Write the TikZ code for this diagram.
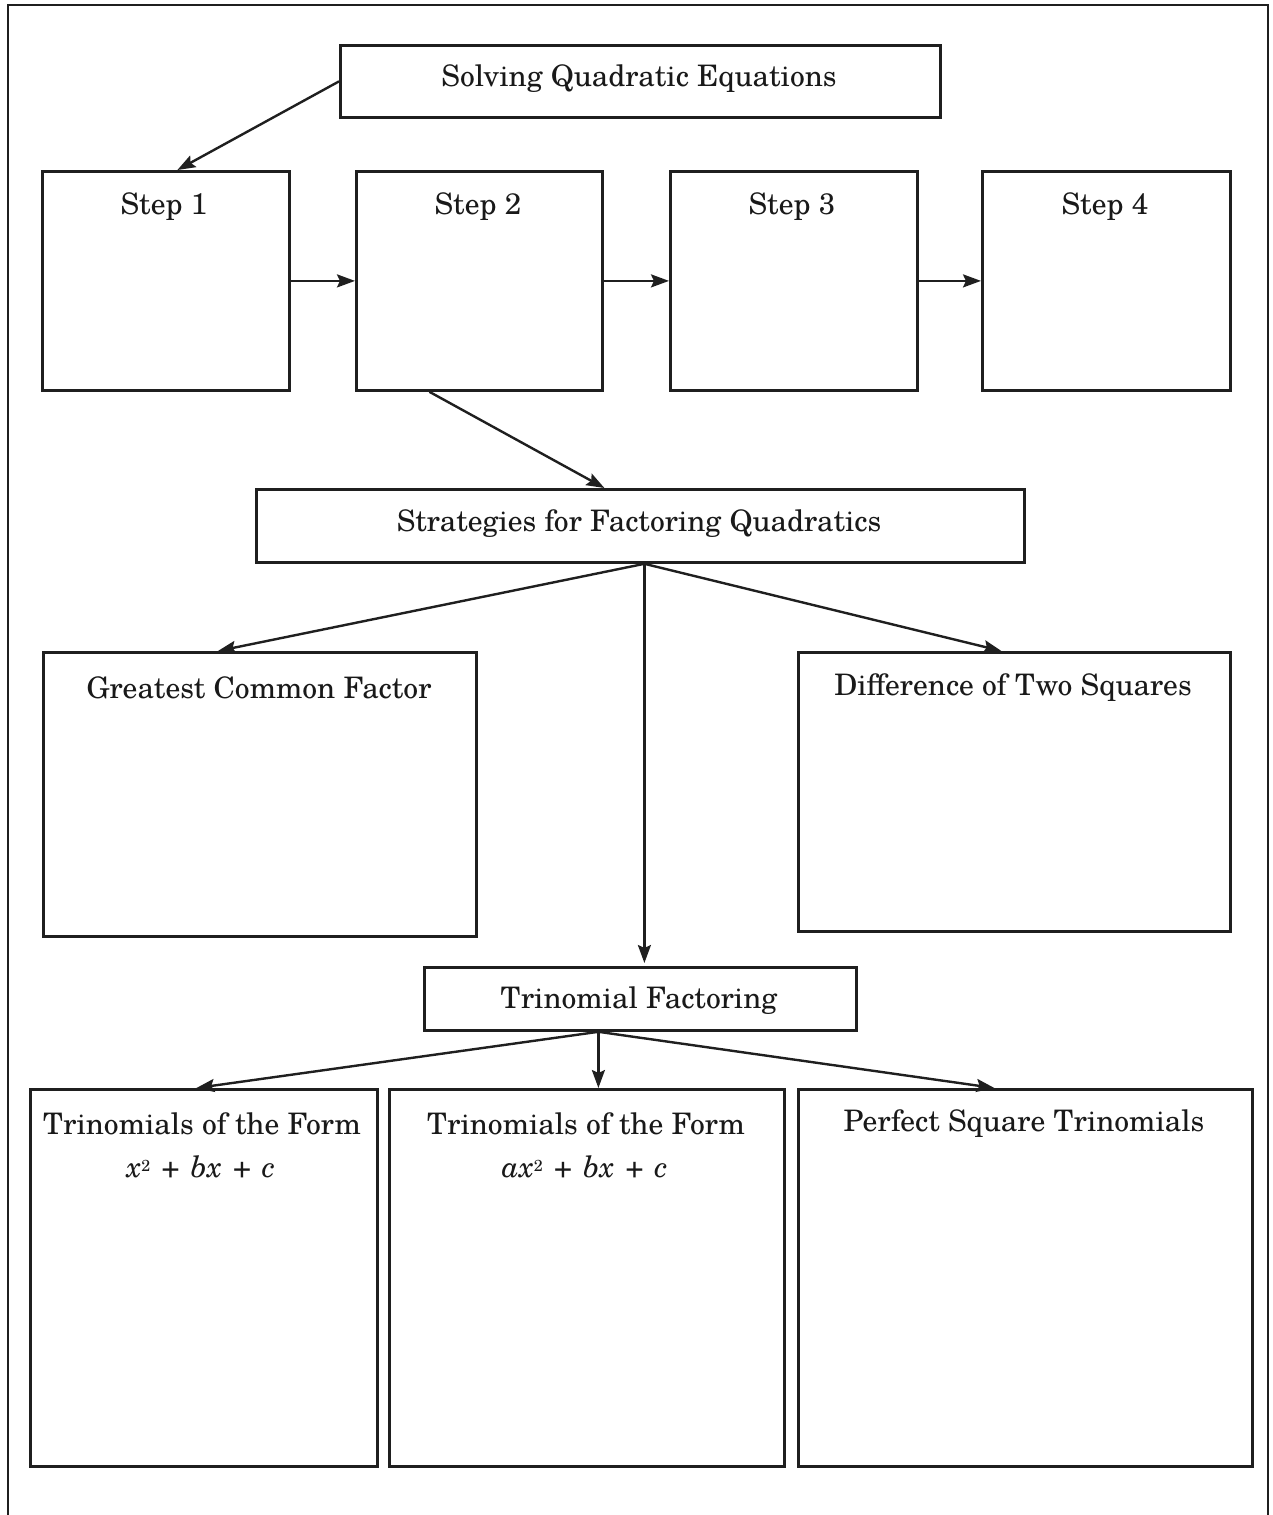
\documentclass[tikz,border=0pt]{standalone}
\usepackage{fontspec}
\setmainfont{TeX Gyre Schola}
\usetikzlibrary{arrows.meta}
\newcommand{\pl}{\hspace{5.6pt}+\hspace{5.6pt}}
\newcommand{\sqd}{{\footnotesize\raisebox{0.8ex}{2}}}
\begin{document}
\begin{tikzpicture}[x=0.5pt,y=-0.5pt,
  line width=1.4pt, draw={black!88},
  box/.style={draw, rectangle, inner sep=0pt, anchor=north west},
  txt/.style={inner sep=0pt, font=\fontsize{14.8}{18}\selectfont, text=black!90, align=center},
  arr/.style={line width=1.2pt, -{Stealth[length=9pt,width=6.5pt,inset=1.5pt]}},
  frameline/.style={line width=1.4pt}]
\useasboundingbox (0,0) rectangle (1273,1515);
% open page frame
\draw[frameline] (8,1515) -- (8,5) -- (1268,5) -- (1268,1515);

% top level
\node[box, minimum width=300pt, minimum height=36pt] (solve) at (339,44) {};
\node[txt] (solvet) at (639,79) {Solving Quadratic Equations};

% step boxes
\node[box, minimum width=123.5pt, minimum height=109.5pt] (s1) at (41,170) {};
\node[box, minimum width=123pt, minimum height=109.5pt] (s2) at (355,170) {};
\node[box, minimum width=123.5pt, minimum height=109.5pt] (s3) at (669,170) {};
\node[box, minimum width=124pt, minimum height=109.5pt] (s4) at (981,170) {};
\node[txt] (s1t) at (164,207) {Step 1};
\node[txt] (s2t) at (478,207) {Step 2};
\node[txt] (s3t) at (792,207) {Step 3};
\node[txt] (s4t) at (1105,207) {Step 4};

% strategies
\node[box, minimum width=384pt, minimum height=36.5pt] (strat) at (255,488) {};
\node[txt] (stratt) at (639,524) {Strategies for Factoring Quadratics};

\node[box, minimum width=216.5pt, minimum height=142pt] (gcf) at (42,651) {};
\node[txt] (gcft) at (259,688) {Greatest Common Factor};
\node[box, minimum width=216pt, minimum height=139.5pt] (dts) at (797,651) {};
\node[txt] (dtst) at (1013,688) {Difference of Two Squares};

% trinomial factoring
\node[box, minimum width=216pt, minimum height=31.5pt] (tri) at (423,966) {};
\node[txt] (trit) at (639,1001) {Trinomial Factoring};

\node[box, minimum width=173.5pt, minimum height=188.5pt] (b1) at (29,1088) {};
\node[txt] (b1t) at (202,1124) {Trinomials of the Form};
\node[txt] (b1m) at (201,1167) {\textit{x}\sqd\pl\textit{bx}\pl\textit{c}};
\node[box, minimum width=197.5pt, minimum height=188.5pt] (b2) at (388,1088) {};
\node[txt] (b2t) at (586,1124) {Trinomials of the Form};
\node[txt] (b2m) at (585,1167) {\textit{ax}\sqd\pl\textit{bx}\pl\textit{c}};
\node[box, minimum width=227pt, minimum height=188.5pt] (b3) at (797,1088) {};
\node[txt] (b3t) at (1024,1124) {Perfect Square Trinomials};

% connectors
\coordinate (solveL) at (solve.west);
\draw[arr] (solveL) -- ([xshift=5.75pt]s1.north);
\draw[arr] (s1.east) -- (s2.west);
\draw[arr] (s2.east) -- (s3.west);
\draw[arr] (s3.east) -- (s4.west);
\draw[arr] ([xshift=-25pt]s2.south) -- ([xshift=-18pt]strat.north);
\coordinate (stratB) at ([xshift=2pt]strat.south);
\draw[arr] (stratB) -- ([xshift=-21pt]gcf.north);
\draw[arr] (stratB) -- ([xshift=-6.5pt]dts.north);
\draw[arr] (stratB) -- ([xshift=2pt,yshift=1.5pt]tri.north);
\coordinate (triB) at ([xshift=-21pt]tri.south);
\draw[arr] (triB) -- ([xshift=-3.75pt]b1.north);
\draw[arr] (triB) -- ([xshift=5.75pt]b2.north);
\draw[arr] (triB) -- ([xshift=-15.5pt]b3.north);
\end{tikzpicture}
\end{document}
